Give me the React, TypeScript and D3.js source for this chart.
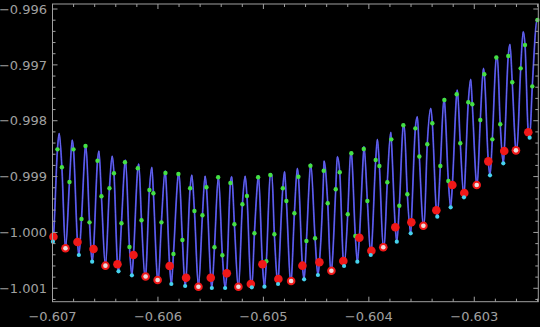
import React from "react";
import * as d3 from "d3";

// Local maxima of the oscillating curve
const peakX = [-0.606937, -0.606813, -0.606684, -0.60656, -0.606434, -0.606308, -0.606182, -0.606058, -0.605932, -0.605801, -0.605679, -0.605553, -0.605427, -0.6053, -0.605173, -0.605047, -0.60492, -0.604799, -0.604678, -0.604551, -0.604425, -0.604299, -0.604172, -0.604046, -0.603919, -0.603792, -0.603666, -0.60354, -0.603413, -0.603287, -0.603161, -0.603034, -0.602913, -0.602782, -0.602662, -0.602536, -0.602403];
const peakY = [-0.998225, -0.998345, -0.998435, -0.998542, -0.998632, -0.998703, -0.998775, -0.998834, -0.9989, -0.998936, -0.998972, -0.99899, -0.999002, -0.999002, -0.99899, -0.998984, -0.998959, -0.998913, -0.998852, -0.998775, -0.998721, -0.998644, -0.998565, -0.998462, -0.998333, -0.998207, -0.998064, -0.997928, -0.997778, -0.997599, -0.99745, -0.997259, -0.997062, -0.996854, -0.996632, -0.996406, -0.996184];

// Local minima of the oscillating curve
const troughX = [-0.606996, -0.606877, -0.60675, -0.606624, -0.606498, -0.606374, -0.606247, -0.606121, -0.605998, -0.605873, -0.605742, -0.605616, -0.605489, -0.605363, -0.605237, -0.60511, -0.60499, -0.604861, -0.60474, -0.604614, -0.604483, -0.604361, -0.604235, -0.604109, -0.603982, -0.603856, -0.603735, -0.603603, -0.603477, -0.603351, -0.603224, -0.603098, -0.602974, -0.602851, -0.602725, -0.602598, -0.602475];
const troughY = [-1.000166, -1.000284, -1.000404, -1.000524, -1.000601, -1.000696, -1.000767, -1.000821, -1.000869, -1.000923, -1.000959, -1.000971, -1.000995, -1.000995, -1.001, -1.000982, -1.000971, -1.000923, -1.000887, -1.000839, -1.000762, -1.000703, -1.000601, -1.000524, -1.000404, -1.000266, -1.000166, -1.000015, -0.999885, -0.999718, -0.99955, -0.999371, -0.999163, -0.998977, -0.998762, -0.998555, -0.998303];

// Green sample points
const greenX = [
  -0.606953, -0.606911, -0.606839, -0.606801, -0.606725, -0.606687, -0.606649, -0.606573, -0.606536, -0.60646,
  -0.606417, -0.606346, -0.606313, -0.60627, -0.606191, -0.606156, -0.606081, -0.606043, -0.605967, -0.605929,
  -0.605853, -0.605806, -0.605768, -0.605695, -0.605654, -0.605578, -0.60554, -0.605464, -0.605429, -0.605389,
  -0.605313, -0.605275, -0.605199, -0.605156, -0.605085, -0.60505, -0.604972, -0.604934, -0.604896, -0.604816,
  -0.604782, -0.604706, -0.604668, -0.604592, -0.604554, -0.60451, -0.604428, -0.60439, -0.604314, -0.604276,
  -0.6042, -0.604166, -0.604128, -0.604048, -0.604014, -0.603935, -0.6039, -0.603825, -0.603787, -0.603711,
  -0.603673, -0.603635, -0.603559, -0.603521, -0.603446, -0.603398, -0.603322, -0.603284, -0.603246, -0.603167,
  -0.603133, -0.603057, -0.603019, -0.602943, -0.602905, -0.602829, -0.602791, -0.602754, -0.602678, -0.60264,
  -0.60256, -0.602519, -0.60245, -0.602401,
];
const greenY = [
  -0.998512, -0.998834, -0.999097, -0.998512, -0.999759, -0.998453, -0.999819, -0.998716, -0.999353, -0.99921,
  -0.998941, -0.999836, -0.998744, -1.000261, -0.998852, -0.999783, -0.99924, -0.999299, -0.999819, -0.998936,
  -1.000386, -0.998954, -1.000135, -0.99921, -0.999616, -0.999693, -0.999192, -1.000266, -0.999013, -1.000409,
  -0.999115, -0.999854, -0.999496, -0.999348, -1.000015, -0.999013, -1.000517, -0.998972, -1.000033, -0.99921,
  -0.999437, -0.999657, -0.999002, -1.000153, -0.998805, -1.000105, -0.998895, -0.999478, -0.999228, -0.998923,
  -0.999675, -0.998583, -1.000064, -0.998506, -0.999437, -0.998703, -0.998811, -0.999102, -0.998333, -0.999521,
  -0.998082, -0.999317, -0.998136, -0.998641, -0.998422, -0.998046, -0.998811, -0.997629, -0.999079, -0.997527,
  -0.998404, -0.99767, -0.997706, -0.997987, -0.997169, -0.998333, -0.996868, -0.998064, -0.996841, -0.997312,
  -0.997062, -0.996645, -0.997384, -0.996197,
];

// Red points (lowest sample per oscillation)
const redX = [-0.606991, -0.606877, -0.606763, -0.606611, -0.606498, -0.606384, -0.606232, -0.606117, -0.606003, -0.605889, -0.605733, -0.605616, -0.605499, -0.605347, -0.605237, -0.605119, -0.605009, -0.604858, -0.604737, -0.60463, -0.604469, -0.604355, -0.604242, -0.60409, -0.603976, -0.603863, -0.603749, -0.603597, -0.603483, -0.60336, -0.603208, -0.603095, -0.602977, -0.602867, -0.602716, -0.602605, -0.602488];
const redY = [-1.000076, -1.000284, -1.000171, -1.000297, -1.000595, -1.00057, -1.000404, -1.000789, -1.000851, -1.000601, -1.00081, -1.000971, -1.00081, -1.000732, -1.000971, -1.000923, -1.00057, -1.000834, -1.000869, -1.000595, -1.000535, -1.000685, -1.000511, -1.000094, -1.000327, -1.000266, -0.999908, -0.999819, -0.999879, -0.999604, -0.999151, -0.999294, -0.999151, -0.998727, -0.998542, -0.99853, -0.998207];

// Cyan points (true minima)
const cyanX = [-0.606996, -0.60675, -0.606624, -0.606374, -0.606247, -0.605873, -0.605742, -0.605489, -0.605363, -0.60511, -0.60499, -0.604861, -0.604614, -0.604483, -0.604235, -0.604109, -0.603982, -0.603735, -0.603603, -0.603351, -0.603224, -0.603098, -0.602851, -0.602725, -0.602475];
const cyanY = [-1.000166, -1.000404, -1.000524, -1.000696, -1.000767, -1.000923, -1.000959, -1.000995, -1.000995, -1.000982, -1.000971, -1.000923, -1.000839, -1.000762, -1.000601, -1.000524, -1.000404, -1.000166, -1.000015, -0.999718, -0.99955, -0.999371, -0.998977, -0.998762, -0.998303];

// Whitish points (minima coinciding with a red point)
const whiteX = [-0.606877, -0.606498, -0.606117, -0.606003, -0.605616, -0.605237, -0.604737, -0.604355, -0.603863, -0.603483, -0.602977, -0.602605];
const whiteY = [-1.000284, -1.000595, -1.000789, -1.000851, -1.000971, -1.000971, -1.000869, -1.000685, -1.000266, -0.999879, -0.999151, -0.99853];

const xMajor = [-0.607, -0.606, -0.605, -0.604, -0.603];
const xTickLabels = ["\u22120.607", "\u22120.606", "\u22120.605", "\u22120.604", "\u22120.603"];
const yMajor = [-1.001, -1.0, -0.999, -0.998, -0.997, -0.996];
const yTickLabels = ["\u22121.001", "\u22121.000", "\u22120.999", "\u22120.998", "\u22120.997", "\u22120.996"];

const W = 540;
const H = 327;
const L = 52.5, R = 538.3, T = 4, B = 301.7;
const AXIS = "#a0a0a0";

export default function App() {
  const x = d3.scaleLinear().domain([-0.607, -0.602393]).range([L, R]);
  const y = d3.scaleLinear().domain([-1.00124, -0.99591]).range([B, T]);

  const cands: [number, number][] = [];
  const add = (xs: number[], ys: number[]) => xs.forEach((v, i) => cands.push([v, ys[i]]));
  add(peakX, peakY);
  add(troughX, troughY);
  add(greenX, greenY);
  add(redX, redY);
  const knots: [number, number][] = [];
  for (const c of cands) {
    if (!knots.some((k) => Math.abs(k[0] - c[0]) < 2e-6)) knots.push(c);
  }
  knots.sort((a, b) => a[0] - b[0]);
  const line = d3
    .line<[number, number]>()
    .x((d) => x(d[0]))
    .y((d) => y(d[1]))
    .curve(d3.curveMonotoneX);
  const path = line(knots) || "";

  const xMinor = d3.range(0, 24).map((i) => -0.607 + i * 0.0002).filter((v) => x(v) <= R + 0.1);
  const yMinor = d3.range(0, 27).map((i) => -1.0012 + i * 0.0002).filter((v) => y(v) >= T - 0.1);

  const dots = (xs: number[], ys: number[], r: number, fill: string, key: string) =>
    xs.map((v, i) => <circle key={key + i} cx={x(v)} cy={y(ys[i])} r={r} fill={fill} />);

  return (
    <div style={{ position: "fixed", left: 0, top: 0, right: 0, bottom: 0, background: "#000" }}>
      <svg width={W} height={H} style={{ display: "block" }}>
        <rect x={0} y={0} width={W} height={H} fill="#000" />
        <defs>
          <clipPath id="plotClip">
            <rect x={L} y={T} width={R - L} height={B - T} />
          </clipPath>
        </defs>
        <g clipPath="url(#plotClip)">
          <path d={path} fill="none" stroke="#3c3cd2" strokeWidth={1.8} />
          <path d={path} fill="none" stroke="#7c7cf6" strokeWidth={0.7} />
        </g>
        {dots(greenX, greenY, 2.2, "#44e044", "g")}
        {dots(redX, redY, 4.3, "#f01818", "r")}
        {dots(cyanX, cyanY, 2.1, "#46d2ee", "c")}
        {dots(whiteX, whiteY, 2.3, "#ecdcdc", "w")}
        {/* frame */}
        <rect x={L} y={T} width={R - L} height={B - T} fill="none" stroke={AXIS} strokeWidth={1} />
        {xMinor.map((v, i) => {
          const major = xMajor.some((m) => Math.abs(m - v) < 1e-7);
          const len = major ? 5 : 3;
          return (
            <g key={"xt" + i} stroke={AXIS} strokeWidth={1}>
              <line x1={x(v)} x2={x(v)} y1={B} y2={B - len} />
              <line x1={x(v)} x2={x(v)} y1={T} y2={T + len} />
            </g>
          );
        })}
        {yMinor.map((v, i) => {
          const major = yMajor.some((m) => Math.abs(m - v) < 1e-7);
          const len = major ? 5 : 3;
          return (
            <g key={"yt" + i} stroke={AXIS} strokeWidth={1}>
              <line x1={L} x2={L + len} y1={y(v)} y2={y(v)} />
              <line x1={R} x2={R - len} y1={y(v)} y2={y(v)} />
            </g>
          );
        })}
        {xMajor.map((v, i) => (
          <text key={"xl" + i} x={x(v)} y={321} textAnchor="middle" fill={AXIS} fontFamily="DejaVu Sans" fontSize={13}>
            {xTickLabels[i]}
          </text>
        ))}
        {yMajor.map((v, i) => (
          <text key={"yl" + i} x={47} y={y(v) + 4.7} textAnchor="end" fill={AXIS} fontFamily="DejaVu Sans" fontSize={13}>
            {yTickLabels[i]}
          </text>
        ))}
      </svg>
    </div>
  );
}
